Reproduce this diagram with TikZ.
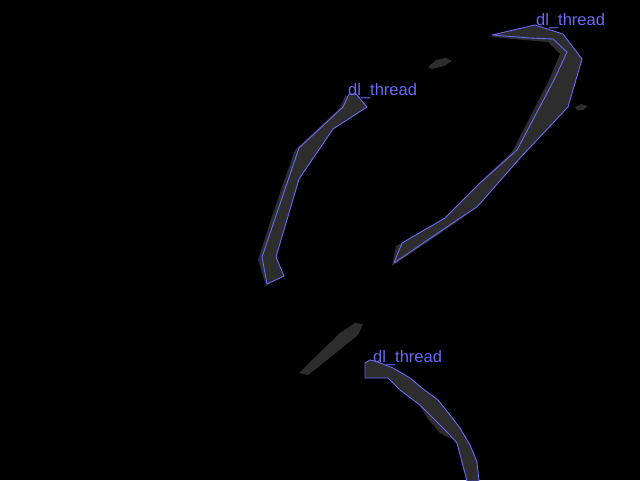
\documentclass[tikz,border=0pt]{standalone}
\usepackage{fontspec}
\setsansfont{Liberation Sans}
\usetikzlibrary{positioning}
\definecolor{blob}{RGB}{45,45,45}
\definecolor{edge}{RGB}{105,105,250}

\begin{document}
\begin{tikzpicture}[x=1pt,y=-1pt,
    shade/.style={fill=blob,draw=none},
    thread/.style={fill=blob,draw=edge,line width=0.9pt,line join=round},
    tag/.style={text=edge,font=\sffamily\fontsize{16.5}{16.5}\selectfont,anchor=base west,inner sep=0pt}]
      \fill[black] (0,0) rectangle (640,480);
      \useasboundingbox (0,0) rectangle (640,480);
      % loose gray patches
      \fill[blob] (428,67) -- (436,60) -- (446,58) -- (452,61) -- (444,66) -- (432,69) -- cycle;
      \fill[blob] (575,107) -- (581,104) -- (588,106) -- (583,110) -- (577,110) -- cycle;
      \fill[blob] (299,373) -- (310,362) -- (340,333) -- (355,323) -- (363,324) -- (358,335) -- (327,360) -- (308,375) -- cycle;
      % gray halo left of the outlines
      \path[shade] (345,96) -- (354,96) -- (363,108) -- (330,130) -- (296,180) -- (273,258) -- (280,276) -- (266,286) -- (258,260) -- (274,210) -- (295,150) -- (340,108) -- cycle;
      \path[shade] (490,37) -- (530,27) -- (560,36) -- (578,60) -- (565,108) -- (518,160) -- (474,209) -- (457,222) -- (392,266) -- (396,246) -- (440,222) -- (476,186) -- (512,152) -- (550,78) -- (560,54) -- (548,42) -- cycle;
      \path[shade] (418,403) -- (432,414) -- (446,428) -- (449,438) -- (440,433) -- (428,419) -- cycle;
      % outlined threads
      \draw[thread] (349,94) -- (356,94) -- (367,107) -- (333,129) -- (299,179) -- (276,257) -- (284,276) -- (267,284) -- (262,257) -- (299,148) -- (343,107) -- cycle;
      \draw[thread] (492,35) -- (535,25) -- (563,34) -- (582,59) -- (568,107) -- (520,158) -- (477,207) -- (460,218) -- (394,263) -- (402,243) -- (445,218) -- (480,183) -- (517,150) -- (555,78) -- (567,52) -- (553,39) -- (530,38) -- cycle;
      \draw[thread] (365,363) -- (370,360) -- (375,361) -- (393,368) -- (410,378) -- (422,388) -- (438,400) -- (450,415) -- (460,428) -- (470,445) -- (477,462) -- (479,481) -- (467,481) -- (462,462) -- (457,443) -- (447,432) -- (433,418) -- (420,405) -- (400,390) -- (388,378) -- (377,378) -- (365,378) -- cycle;
      % labels
      \node[tag] (lblmid) at (348,95) {dl\_thread};
      \node[tag] (lbltop) at (536,25) {dl\_thread};
      \node[tag] (lblbot) at (373,362) {dl\_thread};
\end{tikzpicture}
\end{document}
